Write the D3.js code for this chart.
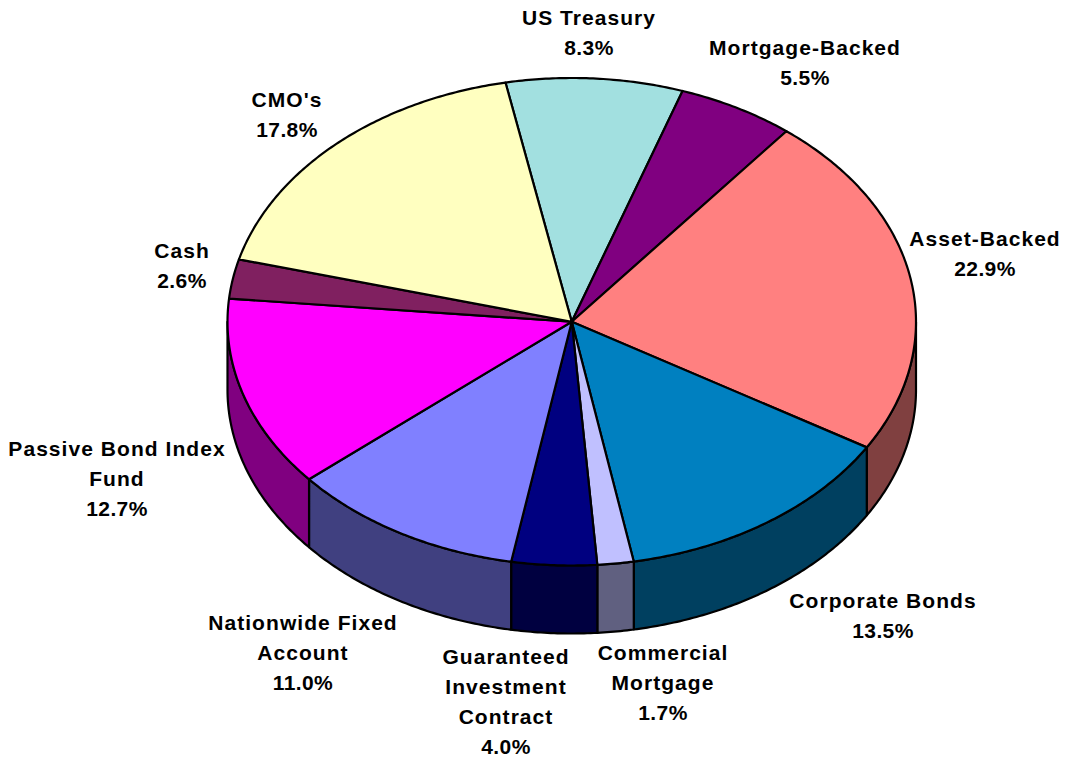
<!DOCTYPE html>
<html><head><meta charset="utf-8">
<script src="https://cdn.jsdelivr.net/npm/d3@7"></script>
<style>html,body{margin:0;padding:0;background:#fff}svg{display:block}
text{font-family:"Liberation Sans",Arial,sans-serif;font-weight:700;font-size:21px;fill:#000;text-anchor:middle}</style>
</head><body><svg width="1065" height="757"></svg>
<script>
const names = ["US Treasury","Mortgage-Backed","Asset-Backed","Corporate Bonds","Commercial Mortgage","Guaranteed Investment Contract","Nationwide Fixed Account","Passive Bond Index Fund","Cash","CMO's"];
const values = [8.3,5.5,22.9,13.5,1.7,4.0,11.0,12.7,2.6,17.8];
const topColors = ["#A2E0E0","#800080","#FF8080","#0080C0","#C0C0FF","#000080","#8080FF","#FF00FF","#802060","#FFFFC0"];
const sideColors = ["#516F70","#400040","#804040","#004060","#606080","#000040","#404080","#800080","#401030","#808060"];
const labelLines = [["US Treasury","8.3%"],["Mortgage-Backed","5.5%"],["Asset-Backed","22.9%"],["Corporate Bonds","13.5%"],["Commercial","Mortgage","1.7%"],["Guaranteed","Investment","Contract","4.0%"],["Nationwide Fixed","Account","11.0%"],["Passive Bond Index","Fund","12.7%"],["Cash","2.6%"],["CMO's","17.8%"]];
const labelX = [589,805,985,883,663,506,303,117,182,287];
const labelY = [25,55,246,608,660,664,630,456,258,107];
const lineGap = 30;
const startDeg = -11.1;

const px = d3.scaleLinear().domain([-1,1]).range([227.5,916]);
const py = d3.scaleLinear().domain([-1,1]).range([78,565.5]);
const depth = 68;
const svg = d3.select("svg");
const pie = d3.pie().sort(null).startAngle(startDeg*Math.PI/180).endAngle((startDeg+360)*Math.PI/180);
const arcs = pie(values);
const pt = a => [px(Math.sin(a)), py(-Math.cos(a))];
const samples = (a0,a1) => { const n=Math.max(2,Math.ceil((a1-a0)/0.01)); return d3.range(n+1).map(i=>a0+(a1-a0)*i/n); };
const line = d3.line();
const lo = Math.PI/2, hi = 3*Math.PI/2;

// walls
const walls = svg.append("g");
arcs.forEach((d,i)=>{
  const a0=Math.max(d.startAngle,lo), a1=Math.min(d.endAngle,hi);
  if(a1<=a0) return;
  const top=samples(a0,a1).map(pt);
  const bot=top.map(p=>[p[0],p[1]+depth]).reverse();
  walls.append("path").attr("d",line(top.concat(bot))+"Z").attr("fill",sideColors[i]).attr("stroke","#000").attr("stroke-width",2.2).attr("stroke-linejoin","round");
});
// top faces
const tops = svg.append("g");
arcs.forEach((d,i)=>{
  const c=[px(0),py(0)];
  tops.append("path").attr("d",line([c].concat(samples(d.startAngle,d.endAngle).map(pt)))+"Z").attr("fill",topColors[i]).attr("stroke","#000").attr("stroke-width",2.2).attr("stroke-linejoin","round");
});
// labels
const lab = svg.append("g");
labelLines.forEach((ls,i)=>{
  const t=lab.append("text").attr("aria-label",names[i]);
  ls.forEach((s,j)=>t.append("tspan").attr("x",labelX[i]).attr("y",labelY[i]+j*lineGap)
    .attr("letter-spacing",/%$/.test(s)?0.4:1.05).text(s));
});
</script></body></html>
